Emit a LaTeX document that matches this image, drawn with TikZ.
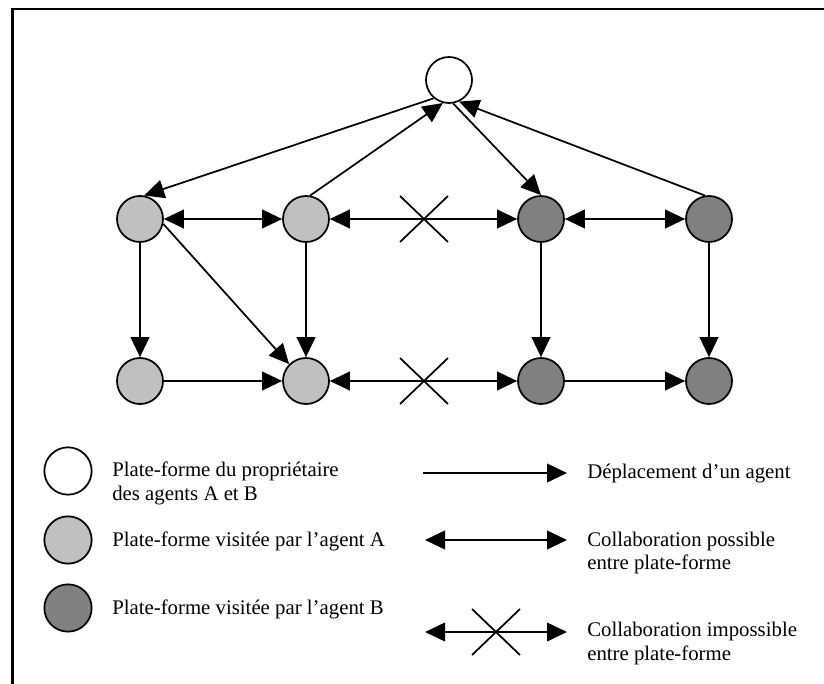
\documentclass[tikz,border=0pt]{standalone}
\usepackage{fontspec}
\setmainfont{Liberation Serif}
\usetikzlibrary{arrows.meta}
\definecolor{lightA}{HTML}{C0C0C0}
\definecolor{darkB}{HTML}{808080}
\begin{document}
\begin{tikzpicture}[x=0.75pt,y=-0.75pt,
  site/.style={circle,draw,line width=1.3pt,minimum size=34.5pt,inner sep=0pt},
  home/.style={site,fill=white},
  siteA/.style={site,fill=lightA},
  siteB/.style={site,fill=darkB},
  tip/.tip={Triangle[length=15pt,width=14pt]},
  move/.style={line width=1.3pt,-tip},
  collab/.style={line width=1.3pt,tip-tip},
  cross/.style={line width=1.3pt},
  txt/.style={font=\fontsize{15.6pt}{17.6pt}\selectfont,anchor=base west,inner sep=0pt,align=left}
]
\useasboundingbox (0,0) rectangle (824,684);

% frame
\draw[line width=2.2pt] (12.5,684) -- (12.5,9) -- (824,9);

% platforms
\node[home]  (O)  at (449,80) {};
\node[siteA] (n1) at (140,219) {};
\node[siteA] (n2) at (306,219) {};
\node[siteB] (n3) at (541,219) {};
\node[siteB] (n4) at (709,219) {};
\node[siteA] (m1) at (140,381) {};
\node[siteA] (m2) at (306,381) {};
\node[siteB] (m3) at (541,381) {};
\node[siteB] (m4) at (709,381) {};

% agent moves
\draw[move] (O.-130) -- (n1.80);
\draw[move] (n2.80) -- (O.-105);
\draw[move] (O.-80) -- (n3.north);
\draw[move] (n4.100) -- (O.-65);
\draw[move] (n1) -- (m1);
\draw[move] (n2) -- (m2);
\draw[move] (n3) -- (m3);
\draw[move] (n4) -- (m4);
\draw[move] (n1.-12) -- (m2.135);
\draw[move] (m1) -- (m2);
\draw[move] (m3) -- (m4);

% collaborations
\draw[collab] (n1) -- (n2);
\draw[collab] (n3) -- (n4);
\draw[collab] (n2) -- (n3);
\draw[collab] (m2) -- (m3);
\coordinate (x1) at (424,219);
\coordinate (x2) at (424,381);
\draw[cross] (x1) ++(-24,-23) -- ++(48,46);
\draw[cross] (x1) ++(24,-23) -- ++(-48,46);
\draw[cross] (x2) ++(-24,-23) -- ++(48,46);
\draw[cross] (x2) ++(24,-23) -- ++(-48,46);

% legend: platforms
\node[home,minimum size=35.5pt]  (kO) at (68,471) {};
\node[siteA,minimum size=35.5pt] (kA) at (68,540) {};
\node[siteB,minimum size=35.5pt] (kB) at (68,608) {};
\node[txt] (tO) at (112,500) {Plate-forme du propriétaire\\des agents A et B};
\node[txt] (tA) at (112,546.5) {Plate-forme visitée par l’agent A};
\node[txt] (tB) at (112,614) {Plate-forme visitée par l’agent B};

% legend: connectors
\coordinate (d1) at (423,473);   \coordinate (d2) at (567,473);
\coordinate (p1) at (425,540);   \coordinate (p2) at (567,540);
\coordinate (i1) at (425,632);   \coordinate (i2) at (567,632);
\coordinate (ix) at (496,632);
\draw[move] (d1) -- (d2);
\draw[collab] (p1) -- (p2);
\draw[collab] (i1) -- (i2);
\draw[cross] (ix) ++(-24,-23) -- ++(48,46);
\draw[cross] (ix) ++(24,-23) -- ++(-48,46);
\node[txt] (tD) at (587,478) {Déplacement d’un agent};
\node[txt] (tP) at (587,569.5) {Collaboration possible\\entre plate-forme};
\node[txt] (tI) at (587,660) {Collaboration impossible\\entre plate-forme};
\end{tikzpicture}
\end{document}
